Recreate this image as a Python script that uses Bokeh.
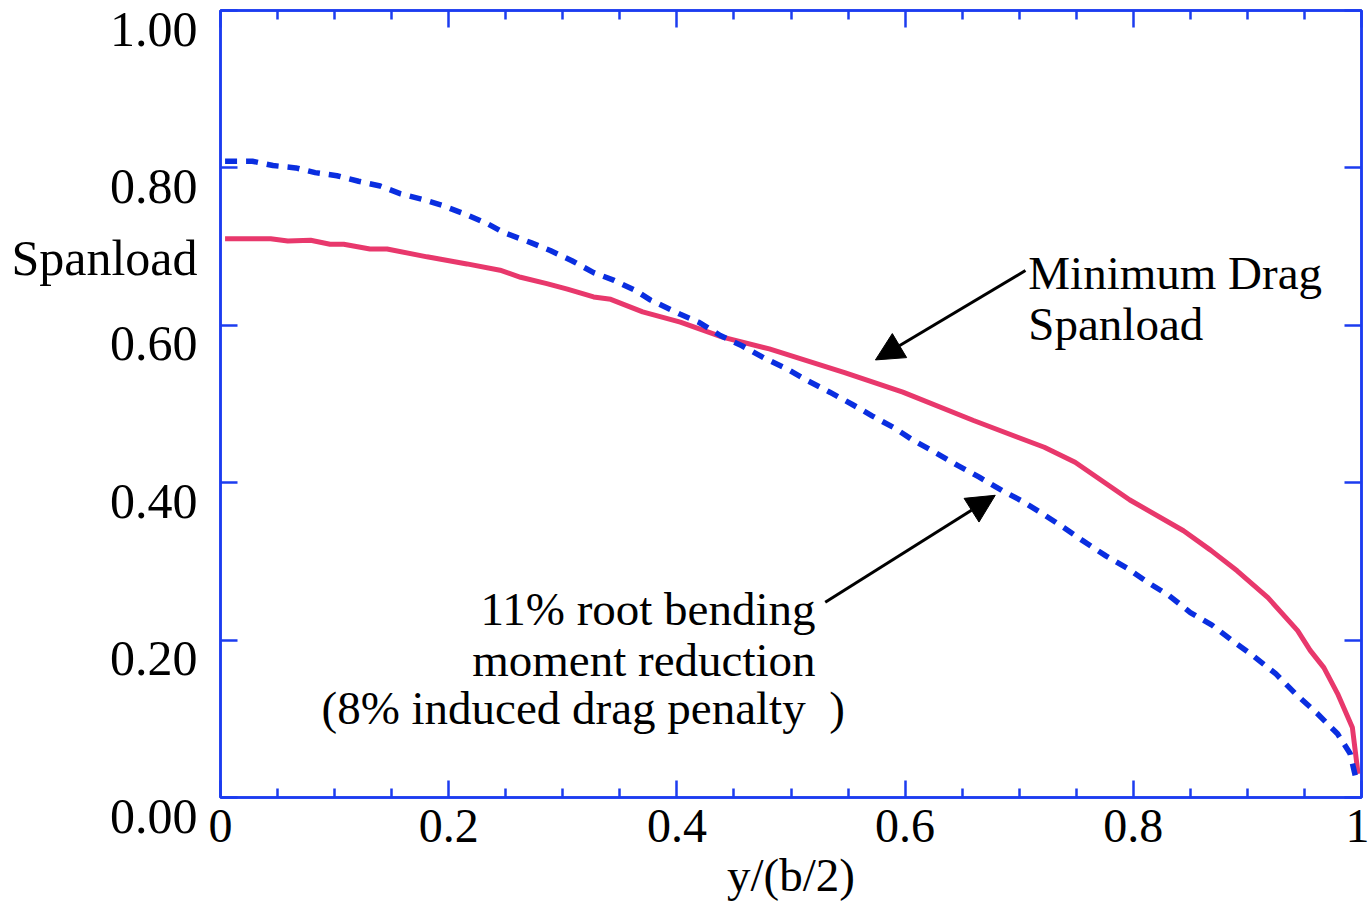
from bokeh.plotting import figure
from bokeh.models import LinearAxis, FixedTicker, Range1d, Label, Arrow, NormalHead
from bokeh.embed import file_html
from bokeh.resources import INLINE

# ---- data ----
x_min_drag = [0.004, 0.044, 0.059, 0.079, 0.096, 0.108, 0.131, 0.146, 0.181, 0.216,
              0.245, 0.263, 0.286, 0.304, 0.327, 0.342, 0.370, 0.403, 0.440, 0.481,
              0.547, 0.598, 0.660, 0.722, 0.749, 0.797, 0.844, 0.868, 0.891, 0.918,
              0.944, 0.955, 0.967, 0.979, 0.992, 0.997]
y_min_drag = [0.710, 0.710, 0.707, 0.708, 0.703, 0.703, 0.697, 0.697, 0.687, 0.678,
              0.670, 0.661, 0.653, 0.646, 0.636, 0.633, 0.617, 0.604, 0.585, 0.570,
              0.540, 0.515, 0.479, 0.445, 0.426, 0.378, 0.339, 0.314, 0.288, 0.254,
              0.212, 0.187, 0.165, 0.132, 0.089, 0.030]

x_rbm = [0.004, 0.028, 0.046, 0.066, 0.083, 0.102, 0.121, 0.140, 0.158, 0.177,
         0.195, 0.215, 0.234, 0.248, 0.272, 0.289, 0.308, 0.327, 0.345, 0.364,
         0.377, 0.403, 0.419, 0.438, 0.457, 0.477, 0.496, 0.514, 0.534, 0.553,
         0.571, 0.590, 0.607, 0.627, 0.646, 0.665, 0.685, 0.702, 0.720, 0.739,
         0.755, 0.776, 0.795, 0.813, 0.831, 0.850, 0.869, 0.887, 0.905, 0.925,
         0.942, 0.961, 0.979, 0.990, 0.995]
y_rbm = [0.8085, 0.8085, 0.803, 0.800, 0.794, 0.790, 0.783, 0.777, 0.767, 0.760,
         0.752, 0.741, 0.729, 0.718, 0.705, 0.695, 0.682, 0.667, 0.657, 0.644,
         0.632, 0.614, 0.604, 0.587, 0.574, 0.558, 0.545, 0.530, 0.515, 0.500,
         0.485, 0.470, 0.454, 0.438, 0.422, 0.407, 0.390, 0.377, 0.361, 0.343,
         0.327, 0.307, 0.291, 0.273, 0.257, 0.235, 0.219, 0.199, 0.180, 0.157,
         0.132, 0.107, 0.081, 0.056, 0.025]

x_ticks = [0.0, 0.2, 0.4, 0.6, 0.8, 1.0]
x_tick_labels = ["0", "0.2", "0.4", "0.6", "0.8", "1"]
x_minor_ticks = [0.05, 0.1, 0.15, 0.25, 0.3, 0.35, 0.45, 0.5, 0.55,
                 0.65, 0.7, 0.75, 0.85, 0.9, 0.95]
y_ticks = [0.0, 0.2, 0.4, 0.6, 0.8, 1.0]
y_tick_labels = ["0.00", "0.20", "0.40", "0.60", "0.80", "1.00"]
y_title = "Spanload"
x_title = "y/(b/2)"

# ---- layout / styling constants ----
AXIS_BLUE = "#1c3cf0"
DASH_BLUE = "#0a2ee0"
RED = "#e8386c"
FONT = "Liberation Serif"
LBL_SHIFT = 0.023          # tick labels sit just below their tick
Y_TITLE_POS = 0.708        # where the "Spanload" title sits on the label axis
TXT_DY = 0.018

p = figure(width=1369, height=904, x_range=Range1d(0, 1), y_range=Range1d(0, 1),
           output_backend="svg", toolbar_location=None,
           x_axis_location=None, y_axis_location=None,
           min_border_left=220, min_border_right=8, min_border_top=10, min_border_bottom=107)
p.grid.visible = False
p.outline_line_color = AXIS_BLUE
p.outline_line_width = 2.5
p.background_fill_color = "white"
p.border_fill_color = "white"
p.extra_y_ranges = {"lbl": Range1d(start=LBL_SHIFT, end=1 + LBL_SHIFT)}


def style_axis(ax, minor):
    ax.axis_line_color = AXIS_BLUE
    ax.axis_line_width = 2.5
    ax.major_tick_line_color = AXIS_BLUE
    ax.major_tick_line_width = 2.5
    ax.major_tick_in = 17
    ax.major_tick_out = 0
    if minor:
        ax.minor_tick_line_color = AXIS_BLUE
        ax.minor_tick_line_width = 2.5
        ax.minor_tick_in = 9
        ax.minor_tick_out = 0
    else:
        ax.minor_tick_line_color = None


def hide_labels(ax):
    ax.major_label_text_color = None
    ax.major_label_text_font_size = "1px"
    ax.major_label_standoff = 0


# bottom: ticks, labels and title
bottom = LinearAxis(ticker=FixedTicker(ticks=x_ticks, minor_ticks=x_minor_ticks),
                    major_label_overrides=dict(zip(x_ticks, x_tick_labels)))
style_axis(bottom, True)
bottom.major_label_text_font = FONT
bottom.major_label_text_font_size = "48px"
bottom.major_label_text_color = "black"
bottom.major_label_standoff = 12
bottom.axis_label = x_title
bottom.axis_label_text_font = FONT
bottom.axis_label_text_font_size = "47px"
bottom.axis_label_text_font_style = "normal"
bottom.axis_label_text_color = "black"
bottom.axis_label_standoff = 4
p.add_layout(bottom, "below")

top = LinearAxis(ticker=FixedTicker(ticks=x_ticks, minor_ticks=x_minor_ticks))
style_axis(top, True)
hide_labels(top)
p.add_layout(top, "above")

# left: tick marks (inner) and a label-only axis (outer)
left_ticks = LinearAxis(ticker=FixedTicker(ticks=y_ticks, minor_ticks=[]))
style_axis(left_ticks, False)
hide_labels(left_ticks)
p.add_layout(left_ticks, "left")

# the "0.00" label cannot lie below the shifted range, so it sits at the range
# start and is pushed down by an empty first line
lbl_vals = [LBL_SHIFT + 0.0001] + y_ticks[1:] + [Y_TITLE_POS]
lbl_text = ["\n" + y_tick_labels[0]] + y_tick_labels[1:] + [y_title]
left_labels = LinearAxis(y_range_name="lbl",
                         ticker=FixedTicker(ticks=lbl_vals, minor_ticks=[]),
                         major_label_overrides=dict(zip(lbl_vals, lbl_text)))
left_labels.axis_line_color = None
left_labels.major_tick_line_color = None
left_labels.minor_tick_line_color = None
left_labels.major_tick_in = 0
left_labels.major_tick_out = 0
left_labels.major_label_text_font = FONT
left_labels.major_label_text_font_size = "50px"
left_labels.major_label_text_line_height = 0.66
left_labels.major_label_text_color = "black"
left_labels.major_label_standoff = 23
p.add_layout(left_labels, "left")

right = LinearAxis(ticker=FixedTicker(ticks=y_ticks, minor_ticks=[]))
style_axis(right, False)
hide_labels(right)
p.add_layout(right, "right")

# ---- curves ----
p.line(x_min_drag, y_min_drag, line_color=RED, line_width=5)
p.line(x_rbm, y_rbm, line_color=DASH_BLUE, line_width=5.5, line_dash="12 9")

# ---- annotations ----
def txt(x, y, s, align="left"):
    p.add_layout(Label(x=x, y=y + TXT_DY, text=s, text_font=FONT, text_font_size="47px",
                       text_color="black", text_align=align, text_baseline="alphabetic"))

txt(0.708, 0.649, "Minimum Drag")
txt(0.708, 0.584, "Spanload")
txt(0.5215, 0.221, "11% root bending", "right")
txt(0.5215, 0.157, "moment reduction", "right")
txt(0.0885, 0.0953, "(8% induced drag penalty\u00a0\u00a0)")

for xs, ys, xe, ye in [(0.7055, 0.6696, 0.574, 0.556), (0.530, 0.248, 0.679, 0.384)]:
    p.add_layout(Arrow(end=NormalHead(size=28, fill_color="black", line_color="black", line_width=1),
                       x_start=xs, y_start=ys, x_end=xe, y_end=ye,
                       line_color="black", line_width=3))

open("out.html", "w").write(file_html(p, INLINE))
